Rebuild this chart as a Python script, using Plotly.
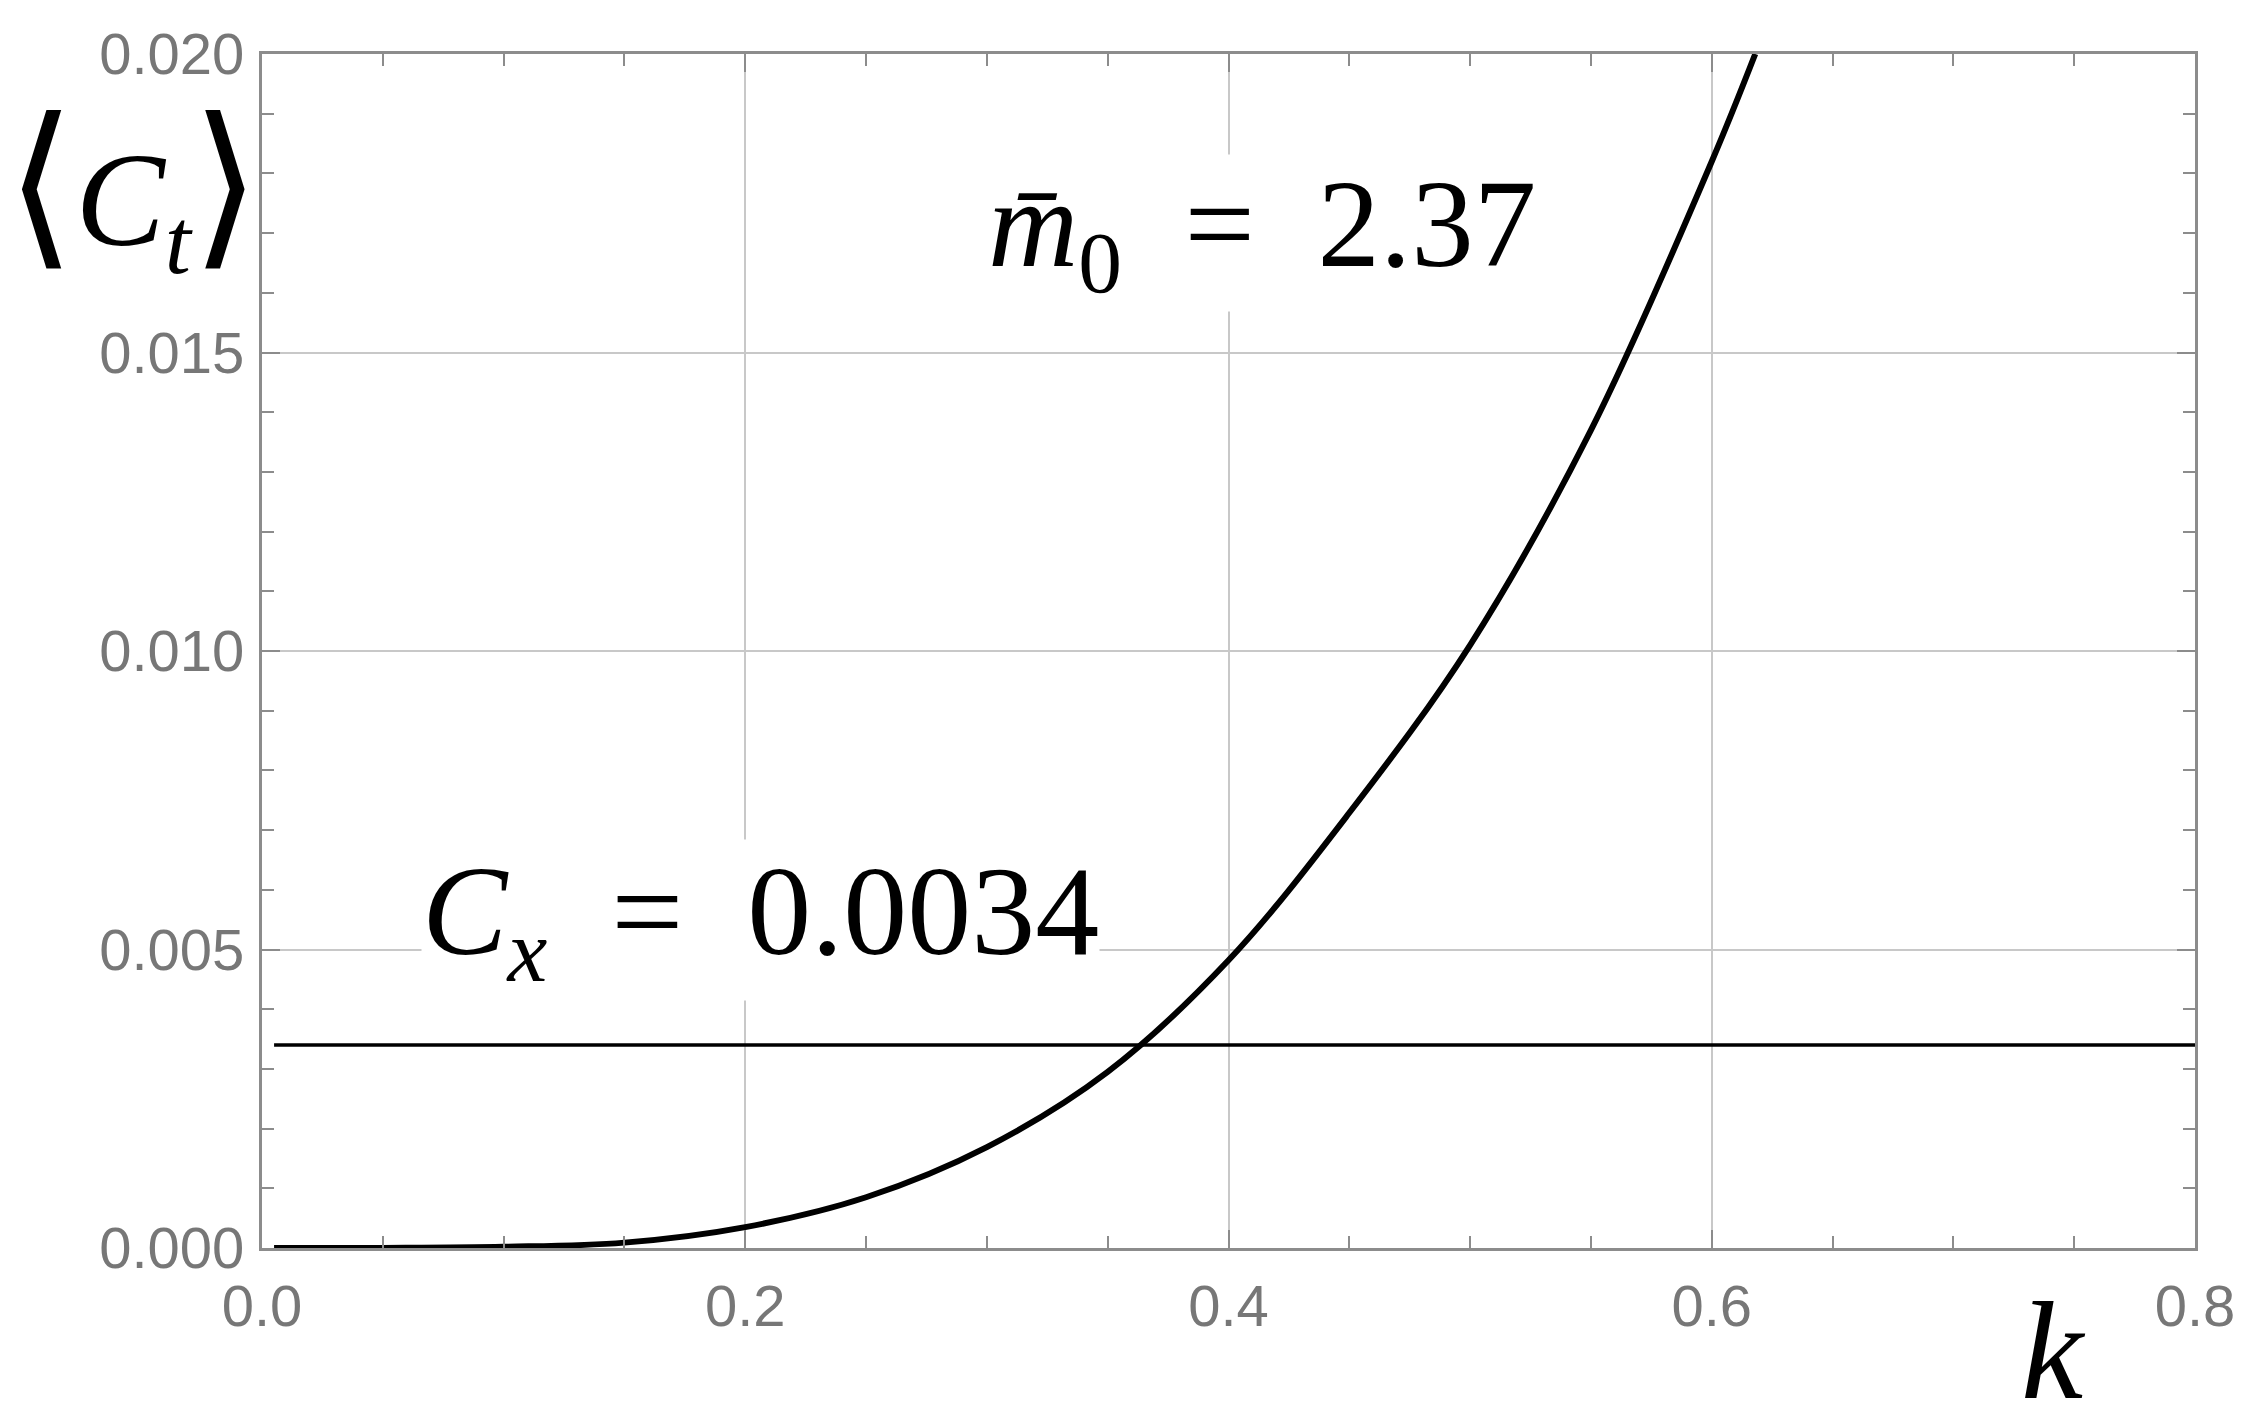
import plotly.graph_objects as go

# ---- data ----
k_vals = [0.005, 0.05, 0.10, 0.15, 0.20, 0.25, 0.30, 0.35, 0.40, 0.45, 0.50, 0.55, 0.60, 0.618]
ct_vals = [0.0, 0.000002, 0.00002, 0.00009, 0.00035, 0.00085, 0.00169, 0.00295, 0.00482,
           0.00729, 0.0101, 0.0137, 0.0182, 0.0200]
cx_k = [0.005, 0.8]
cx_val = [0.0034, 0.0034]

x_tickvals = [0.0, 0.2, 0.4, 0.6, 0.8]
x_ticktext = ["0.0", "0.2", "0.4", "0.6", "0.8"]
y_tickvals = [0.0, 0.005, 0.010, 0.015, 0.020]
y_ticktext = ["0.000", "0.005", "0.010", "0.015", "0.020"]

W, H = 2259, 1424
OFF = 8  # page body margin
ML, MT = 262 - OFF, 54 - OFF
PW, PH = 1933, 1194
MR = W - ML - PW
MB = H - MT - PH

fig = go.Figure()
fig.add_trace(go.Scatter(x=k_vals, y=ct_vals, mode="lines",
                         line=dict(color="black", width=6, shape="spline"),
                         showlegend=False, hoverinfo="skip"))
fig.add_trace(go.Scatter(x=cx_k, y=cx_val, mode="lines",
                         line=dict(color="black", width=3.5),
                         showlegend=False, hoverinfo="skip"))

axis_col = "#8c8c8c"
tick_font = dict(family="Liberation Sans, Arial, sans-serif", size=58, color="#777777")

fig.update_xaxes(range=[0, 0.8], tickvals=x_tickvals, ticktext=x_ticktext,
                 ticks="inside", ticklen=18, tickwidth=2, tickcolor=axis_col,
                 showline=True, linecolor=axis_col, linewidth=3, mirror="allticks",
                 showgrid=True, gridcolor="#c8c8c8", gridwidth=2, zeroline=False,
                 tickfont=tick_font, ticklabelstandoff=5,
                 minor=dict(dtick=0.05, ticks="inside", ticklen=12, tickwidth=2,
                            tickcolor=axis_col, showgrid=False))
fig.update_yaxes(range=[0, 0.020], tickvals=y_tickvals, ticktext=y_ticktext,
                 ticks="inside", ticklen=18, tickwidth=2, tickcolor=axis_col,
                 showline=True, linecolor=axis_col, linewidth=3, mirror="allticks",
                 showgrid=True, gridcolor="#c8c8c8", gridwidth=2, zeroline=False,
                 tickfont=tick_font, ticklabelstandoff=3,
                 minor=dict(dtick=0.001, ticks="inside", ticklen=12, tickwidth=2,
                            tickcolor=axis_col, showgrid=False))

serif = "Liberation Serif, Times New Roman, serif"


def px(xp):
    return (xp - OFF - ML) / PW


def py(yp):
    return (H - MB - (yp - OFF)) / PH


annotations = [
    # y-axis label <C_t>
    dict(text="<span style='font-family:DejaVu Sans;font-size:178px'>\u27e8</span>"
              "<i>C</i><sub><i>t</i></sub>"
              "<span style='font-family:DejaVu Sans;font-size:178px'>\u27e9</span>",
         xref="paper", yref="paper", x=px(133), y=py(186), xanchor="center", yanchor="middle",
         showarrow=False, borderpad=0, font=dict(family=serif, size=134, color="black")),
    # x-axis label k
    dict(text="<i>k</i>", xref="paper", yref="paper", x=px(2053), y=py(1350),
         xanchor="center", yanchor="middle", showarrow=False, borderpad=0,
         font=dict(family=serif, size=140, color="black")),
    # m0 annotation
    dict(text="<i>m\u0304</i><sub>0</sub>\u2002=\u20022.37", xref="x", yref="y", x=0.300, y=0.0170,
         xanchor="left", yanchor="middle", showarrow=False, bgcolor="white", borderpad=0,
         font=dict(family=serif, size=125, color="black")),
    # Cx annotation
    dict(text="<i>C</i><sub><i>x</i></sub>\u2002=\u20020.0034", xref="x", yref="y", x=0.066, y=0.0055,
         xanchor="left", yanchor="middle", showarrow=False, bgcolor="white", borderpad=0,
         font=dict(family=serif, size=128, color="black")),
]

fig.update_layout(width=W, height=H, autosize=False,
                  margin=dict(l=ML, r=MR, t=MT, b=MB, pad=0),
                  paper_bgcolor="white", plot_bgcolor="white",
                  annotations=annotations, showlegend=False)

fig.write_html("out.html")
